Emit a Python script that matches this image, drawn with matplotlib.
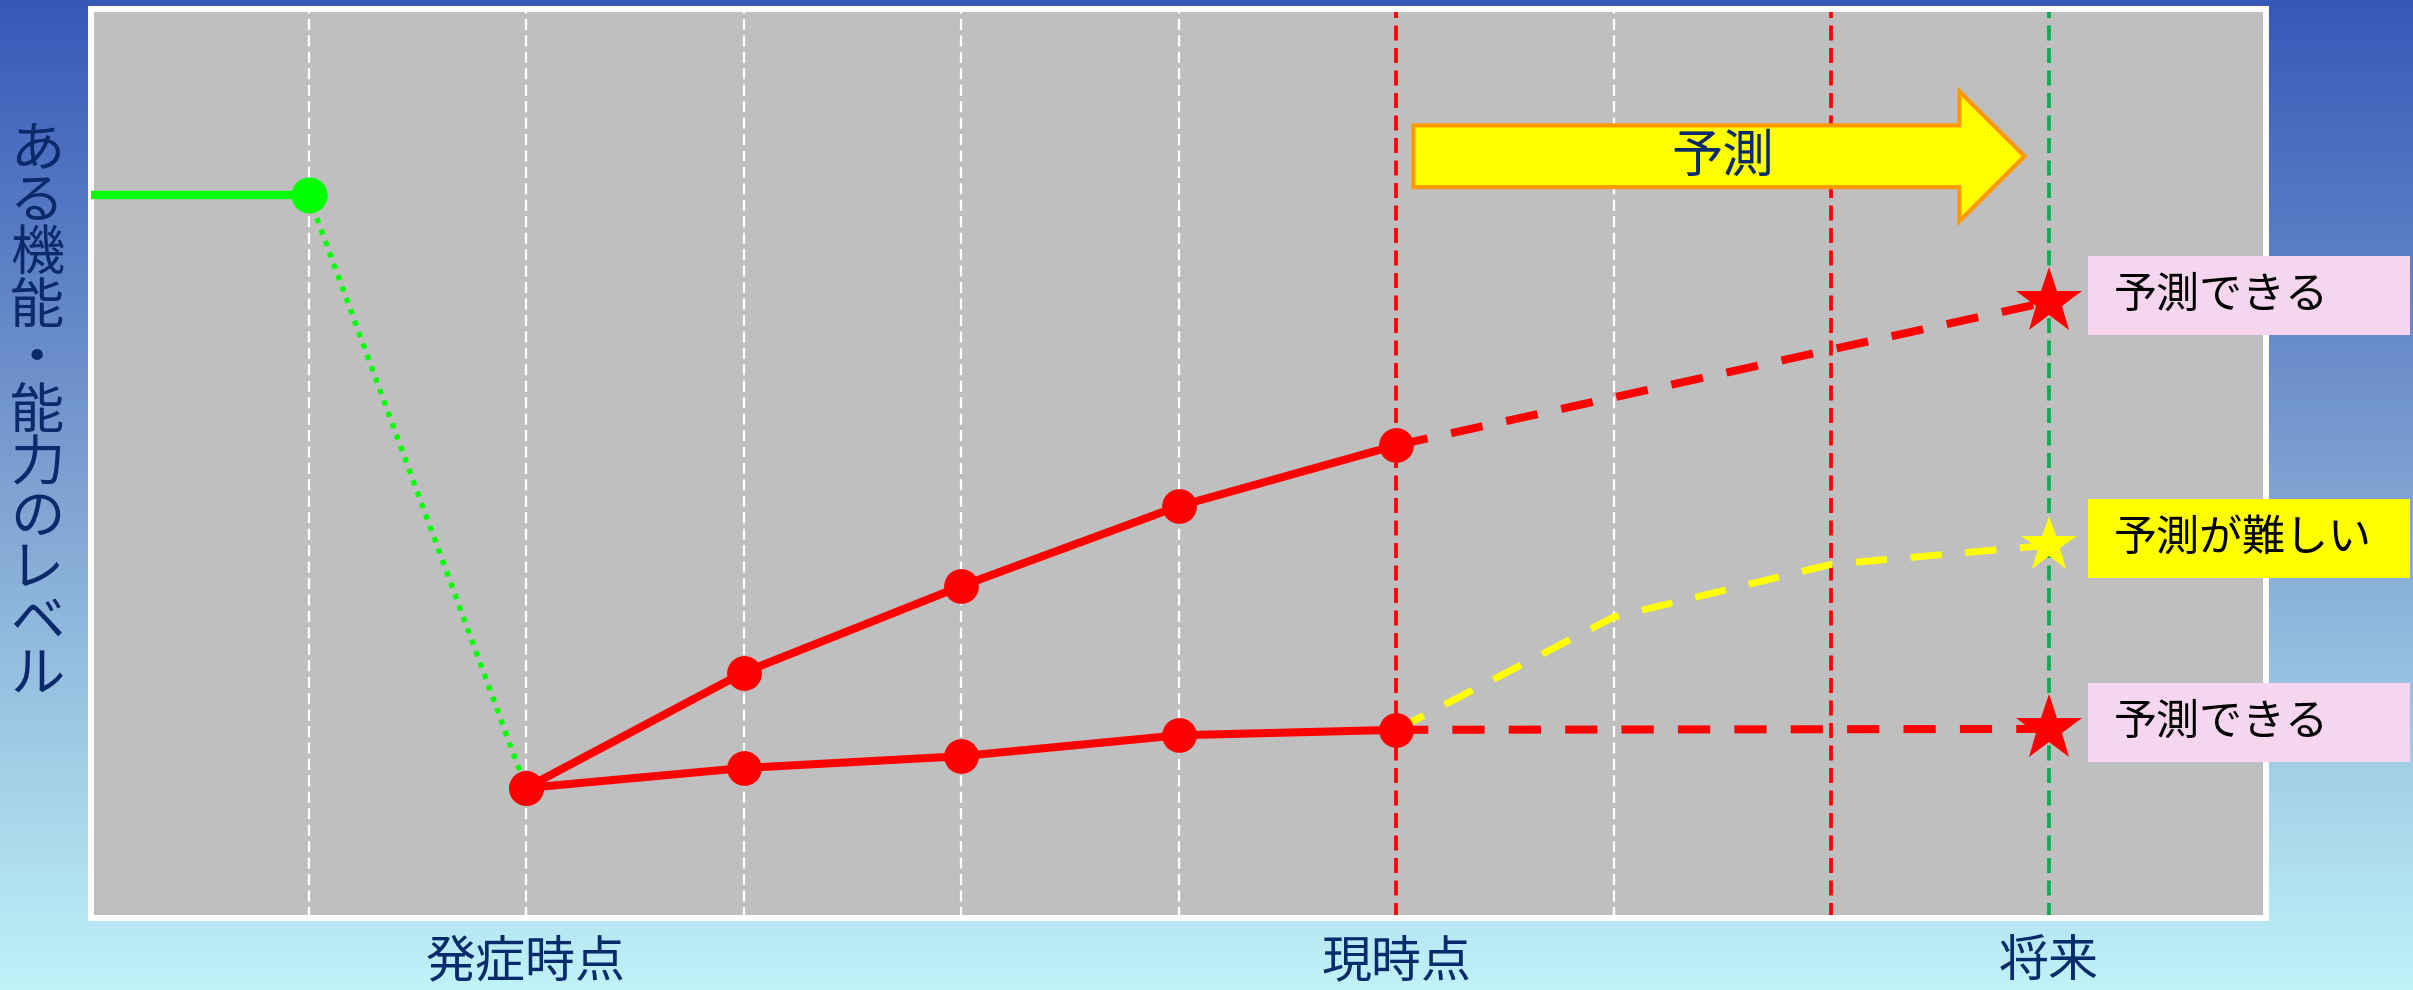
import numpy as np
import matplotlib.pyplot as plt
from matplotlib.patches import FancyArrow, Rectangle
from matplotlib.colors import LinearSegmentedColormap

plt.rcParams['font.family'] = ['Noto Sans CJK JP', 'DejaVu Sans']

# --- data (x = time column, y = level) ---
x_before = [0, 1]
y_before = [7.95, 7.95]
x_drop = [1, 2]
y_drop = [7.95, 1.43]

x_obs = [2, 3, 4, 5, 6]
y_good = [1.43, 2.70, 3.65, 4.53, 5.20]
y_flat = [1.43, 1.65, 1.78, 2.01, 2.07]

x_pred_good = [6, 9]
y_pred_good = [5.20, 6.78]
x_pred_flat = [6, 9]
y_pred_flat = [2.07, 2.08]
x_pred_hard = [6, 7, 8, 9]
y_pred_hard = [2.07, 3.31, 3.89, 4.10]

grid_x = [1, 2, 3, 4, 5, 7]
now_lines = [6, 8]
future_x = 9

time_labels = ['発症時点', '現時点', '将来']
time_label_x = [2, 6, 9]
ylabel = 'ある機能・能力のレベル'
box_labels = ['予測できる', '予測が難しい', '予測できる']
box_y = [6.78, 4.10, 2.08]
box_colors = ['#F6D5EE', '#FFFF00', '#F6D5EE']

navy = '#0B2A6B'

fig = plt.figure(figsize=(24.13, 9.90), dpi=100)

# gradient background
bg = fig.add_axes([0, 0, 1, 1])
cmap = LinearSegmentedColormap.from_list('bg', ['#3858B8', '#7FA3D2', '#C0F2F8'])
bg.imshow(np.linspace(0, 1, 256).reshape(-1, 1), aspect='auto', cmap=cmap,
          extent=[0, 1, 0, 1])
bg.axis('off')

ax = fig.add_axes([91 / 2413, 72 / 990, 2175 / 2413, 909 / 990])
ax.set_facecolor('#BFBFBF')
ax.set_xlim(0, 10)
ax.set_ylim(0, 10)
ax.set_xticks([])
ax.set_yticks([])
for s in ax.spines.values():
    s.set_color('white')
    s.set_linewidth(4.3)

# vertical guide lines
for gx in grid_x:
    ax.axvline(gx, color='white', lw=1.6, ls=(0, (5, 2.4)), zorder=1)
for nx in now_lines:
    ax.axvline(nx, color='#FF0000', lw=2.7, ls=(0, (4, 2)), zorder=1)
ax.axvline(future_x, color='#00B050', lw=2.7, ls=(0, (4, 2)), zorder=1)

# green: before onset
ax.plot(x_before, y_before, color='#00FF00', lw=6, solid_capstyle='butt', zorder=3)
ax.plot(x_drop, y_drop, color='#00FF00', lw=3.8, ls=(0, (1, 1.3)), zorder=3)
ax.plot([x_before[-1]], [y_before[-1]], 'o', color='#00FF00', ms=25, zorder=4)

# predictions (dashed)
ax.plot(x_pred_hard, y_pred_hard, color='#FFFF00', lw=5, ls=(0, (4.5, 3.4)), zorder=3)
ax.plot(x_pred_good, y_pred_good, color='#FF0000', lw=5.8, ls=(0, (4, 3)), zorder=3)
ax.plot(x_pred_flat, y_pred_flat, color='#FF0000', lw=5.8, ls=(0, (4, 3)), zorder=3)

# observed (solid with markers)
ax.plot(x_obs, y_good, color='#FF0000', lw=5.8, marker='o', ms=24, zorder=5)
ax.plot(x_obs, y_flat, color='#FF0000', lw=5.8, marker='o', ms=24, zorder=5)

# stars
ax.plot([x_pred_good[-1]], [y_pred_good[-1]], '*', color='#FF0000', ms=50, mew=0, zorder=6)
ax.plot([x_pred_flat[-1]], [y_pred_flat[-1]], '*', color='#FF0000', ms=50, mew=0, zorder=6)
ax.plot([x_pred_hard[-1]], [y_pred_hard[-1]], '*', color='#FFFF00', ms=42, mew=0, zorder=6)

# prediction arrow
arrow = FancyArrow(6.08, 8.38, 2.81, 0, width=0.68, head_width=1.43, head_length=0.30,
                   length_includes_head=True, facecolor='#FFFF00', edgecolor='#FF9900',
                   lw=3, zorder=7)
ax.add_patch(arrow)
ax.text(7.5, 8.37, '予測', fontsize=37, color=navy, ha='center', va='center', zorder=8)

# label boxes at the right
for lab, by, bc in zip(box_labels, box_y, box_colors):
    yc = by + 0.07
    ax.add_patch(Rectangle((9.18, yc - 0.435), 1.48, 0.87, facecolor=bc, edgecolor='none',
                           clip_on=False, zorder=9))
    ax.text(9.30, yc, lab, fontsize=31, color='black', ha='left', va='center',
            clip_on=False, zorder=10)

# time labels under the axes
for lab, tx in zip(time_labels, time_label_x):
    ax.text(tx, -0.0484, lab, transform=ax.get_xaxis_transform(), fontsize=36,
            color=navy, ha='center', va='center', clip_on=False)

# vertical y label, one character per line
for i, ch in enumerate(ylabel):
    fig.text(37 / 2413, 1 - (150 + 52.5 * i) / 990, ch, fontsize=39, color=navy,
             ha='center', va='center')

fig.savefig('out.png', dpi=100)
